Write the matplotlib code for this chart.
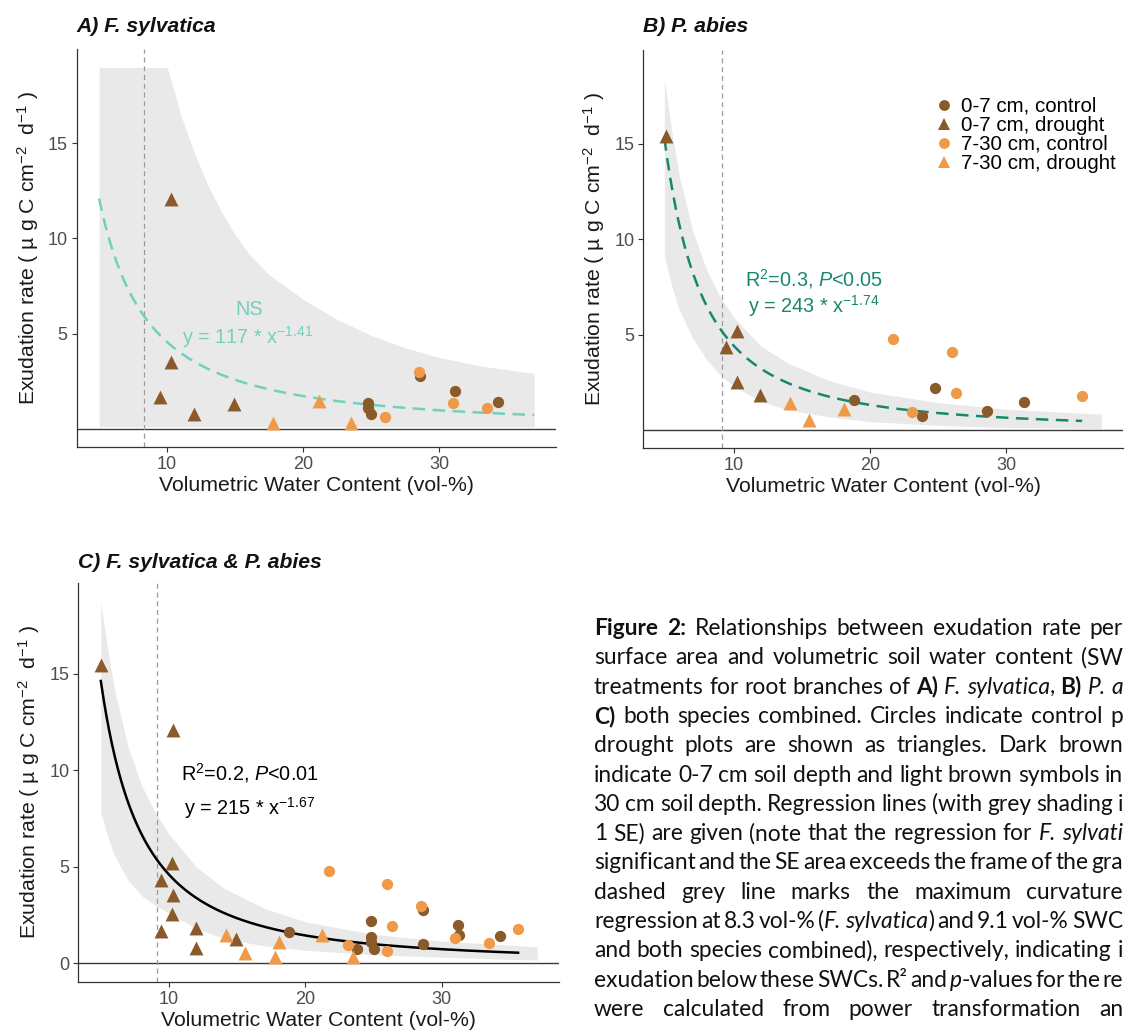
import matplotlib
matplotlib.use("Agg")
import matplotlib.pyplot as plt
import numpy as np
from matplotlib.lines import Line2D

plt.rcParams['font.family'] = ['Liberation Sans', 'DejaVu Sans']
plt.rcParams['mathtext.fontset'] = 'custom'
plt.rcParams['mathtext.rm'] = 'Liberation Sans'
plt.rcParams['mathtext.it'] = 'Liberation Sans:italic'
plt.rcParams['mathtext.bf'] = 'Liberation Sans:bold'

# ---------------- data ----------------
# Panel A: F. sylvatica
A_c07_x = [24.8, 24.8, 25.0, 28.6, 31.2, 34.3]
A_c07_y = [1.37, 1.10, 0.75, 2.77, 2.00, 1.40]
A_c730_x = [28.5, 26.0, 31.0, 33.5]
A_c730_y = [2.98, 0.62, 1.33, 1.07]
A_d07_x = [10.3, 10.3, 9.45, 12.0, 14.9]
A_d07_y = [12.1, 3.52, 1.66, 0.79, 1.28]
A_d730_x = [21.2, 17.8, 23.5]
A_d730_y = [1.45, 0.32, 0.32]

# Panel B: P. abies
B_c07_x = [18.8, 23.8, 24.8, 28.6, 31.3]
B_c07_y = [1.60, 0.75, 2.19, 0.98, 1.49]
B_c730_x = [21.7, 26.0, 26.35, 23.1, 35.6]
B_c730_y = [4.76, 4.10, 1.96, 0.96, 1.79]
B_d07_x = [5.0, 10.25, 9.45, 10.25, 11.95]
B_d07_y = [15.43, 5.22, 4.34, 2.54, 1.84]
B_d730_x = [14.15, 15.55, 18.1]
B_d730_y = [1.45, 0.53, 1.09]

# Fits (y = a * x^b)
A_fit = (117, -1.41)
B_fit = (243, -1.74)
C_fit = (215, -1.67)
A_fit_range = (5.0, 37.0)
B_fit_range = (4.9, 35.6)
C_fit_range = (5.0, 35.6)

# Max-curvature SWC markers
A_vline = 8.3
B_vline = 9.1
C_vline = 9.1

# SE ribbons
A_rib_x = [5.0, 9.9, 10.0, 10.5, 11, 12, 13, 14, 15, 16, 17.5, 20, 22.5, 25, 27.5, 30, 33, 37]
A_rib_hi = [19.0, 19.0, 19.0, 17.8, 16.5, 14.5, 12.8, 11.4, 10.2, 9.2, 8.1, 6.8, 5.75, 4.9, 4.25, 3.75, 3.3, 2.9]
A_rib_lo = [0.1] * len(A_rib_x)

B_rib_x = [4.9, 5.5, 6, 7, 8, 9, 10, 12, 14, 17, 20, 25, 30, 37]
B_rib_hi = [18.4, 15.4, 13.3, 10.4, 8.4, 7.0, 5.9, 4.4, 3.5, 2.6, 2.0, 1.45, 1.1, 0.84]
B_rib_lo = [9.1, 7.4, 6.3, 4.8, 3.7, 2.9, 2.3, 1.5, 1.05, 0.7, 0.45, 0.25, 0.14, 0.09]

C_rib_x = [5.0, 5.5, 6, 7, 8, 9, 10, 12, 14, 17, 20, 25, 30, 37]
C_rib_hi = [18.7, 16.3, 14.2, 11.2, 9.2, 7.8, 6.7, 5.0, 3.9, 2.85, 2.15, 1.5, 1.15, 0.86]
C_rib_lo = [7.8, 6.6, 5.6, 4.3, 3.5, 3.0, 2.6, 1.8, 1.3, 0.9, 0.68, 0.45, 0.32, 0.16]

x_ticks = [10, 20, 30]
y_ticks = [5, 10, 15]
C_y_ticks = [0, 5, 10, 15]

legend_labels = ["0-7 cm, control", "0-7 cm, drought", "7-30 cm, control", "7-30 cm, drought"]

# ---------------- style ----------------
DARK = '#8B5A2B'
LIGHT = '#EE9A49'
RIB = '#E9E9E9'
AXC = '#333333'
TICKC = '#4D4D4D'
LAB_FS = 15.3
ANN_FS = 14.3

W, H = 1125, 1032
fig = plt.figure(figsize=(W / 100, H / 100), dpi=100)


def px_axes(l, t, r, b):
    return fig.add_axes([l / W, 1 - b / H, (r - l) / W, (b - t) / H])


def panel(ax, groups, fit, fit_range, fit_color, fit_ls, rib, vline, ylim, yticks):
    rx, rlo, rhi = rib
    ax.fill_between(rx, rlo, rhi, color=RIB, lw=0, zorder=1)
    ax.axhline(0, color='#3a3a3a', lw=1.0, zorder=2)
    ax.axvline(vline, color='#9a9a9a', lw=0.9, ls=(0, (4, 3)), zorder=2)
    xx = np.linspace(fit_range[0], fit_range[1], 300)
    ax.plot(xx, fit[0] * xx ** fit[1], color=fit_color, lw=1.8, ls=fit_ls, zorder=3)
    for (gx, gy, col, mk) in groups:
        s = 100 if mk == '^' else 66
        ax.scatter(gx, gy, s=s, c=col, marker=mk, linewidths=0, zorder=4)
    ax.set_xlim(3.35, 38.6)
    ax.set_ylim(*ylim)
    ax.set_xticks(x_ticks)
    ax.set_yticks(yticks)
    for sp in ['top', 'right']:
        ax.spines[sp].set_visible(False)
    for sp in ['left', 'bottom']:
        ax.spines[sp].set_color(AXC)
        ax.spines[sp].set_linewidth(0.9)
    ax.tick_params(axis='both', colors=AXC, labelcolor=TICKC, labelsize=13,
                   length=3.5, width=0.8, pad=3)
    ax.set_xlabel("Volumetric Water Content (vol-%)", fontsize=LAB_FS, color='#1a1a1a', labelpad=2)
    ax.set_ylabel(r"Exudation rate ( µ g C cm$^{-2}$  d$^{-1}$ )", fontsize=LAB_FS,
                  color='#1a1a1a', labelpad=5)


A_groups = [(A_c07_x, A_c07_y, DARK, 'o'), (A_c730_x, A_c730_y, LIGHT, 'o'),
            (A_d07_x, A_d07_y, DARK, '^'), (A_d730_x, A_d730_y, LIGHT, '^')]
B_groups = [(B_c07_x, B_c07_y, DARK, 'o'), (B_c730_x, B_c730_y, LIGHT, 'o'),
            (B_d07_x, B_d07_y, DARK, '^'), (B_d730_x, B_d730_y, LIGHT, '^')]
C_groups = [(A_c07_x + B_c07_x, A_c07_y + B_c07_y, DARK, 'o'),
            (A_c730_x + B_c730_x, A_c730_y + B_c730_y, LIGHT, 'o'),
            (A_d07_x + B_d07_x, A_d07_y + B_d07_y, DARK, '^'),
            (A_d730_x + B_d730_x, A_d730_y + B_d730_y, LIGHT, '^')]

axA = px_axes(76.7, 49.3, 556, 446.7)
panel(axA, A_groups, A_fit, A_fit_range, '#72D0BD', (0, (5, 3)),
      (A_rib_x, A_rib_lo, A_rib_hi), A_vline, (-0.95, 19.95), y_ticks)
axA.text(16.0, 6.25, "NS", color='#72D0BD', fontsize=ANN_FS, ha='center', va='center')
axA.text(15.9, 4.8, r"y = 117 * x$^{-1.41}$", color='#72D0BD', fontsize=ANN_FS, ha='center', va='center')

axB = px_axes(643.3, 49.5, 1123, 448.3)
panel(axB, B_groups, B_fit, B_fit_range, '#17876D', (0, (5, 3)),
      (B_rib_x, B_rib_lo, B_rib_hi), B_vline, (-0.95, 19.95), y_ticks)
axB.text(15.9, 7.93, r"R$^2$=0.3, $\it{P}$<0.05", color='#17876D', fontsize=ANN_FS, ha='center', va='center')
axB.text(15.9, 6.5, r"y = 243 * x$^{-1.74}$", color='#17876D', fontsize=ANN_FS, ha='center', va='center')

axC = px_axes(78.3, 583, 559, 981.7)
panel(axC, C_groups, C_fit, C_fit_range, 'black', '-',
      (C_rib_x, C_rib_lo, C_rib_hi), C_vline, (-0.95, 19.7), C_y_ticks)
axC.text(15.9, 9.85, r"R$^2$=0.2, $\it{P}$<0.01", color='black', fontsize=ANN_FS, ha='center', va='center')
axC.text(15.9, 8.05, r"y = 215 * x$^{-1.67}$", color='black', fontsize=ANN_FS, ha='center', va='center')

# titles
for (x, y, t) in [(76.7, 27, "A) F. sylvatica"), (643.3, 27, "B) P. abies"),
                  (78.3, 562, "C) F. sylvatica & P. abies")]:
    fig.text(x / W, 1 - y / H, t, fontsize=15.2, fontweight='bold', fontstyle='italic',
             ha='left', va='center', color='#111111')

# legend
handles = [Line2D([], [], ls='', marker='o', color=DARK, markersize=7.8, mew=0),
           Line2D([], [], ls='', marker='^', color=DARK, markersize=8.8, mew=0),
           Line2D([], [], ls='', marker='o', color=LIGHT, markersize=7.8, mew=0),
           Line2D([], [], ls='', marker='^', color=LIGHT, markersize=8.8, mew=0)]
axB.legend(handles, legend_labels, loc='upper left', bbox_to_anchor=(935 / W, 1 - 97 / H),
           bbox_transform=fig.transFigure, frameon=False, fontsize=14.8, borderpad=0,
           handlelength=0.9, handletextpad=0.35, labelspacing=0.0, borderaxespad=0)

# caption (justified lines)
caption_lines = [
    "*Figure 2:* Relationships between exudation rate per",
    "surface area and volumetric soil water content (SW",
    "treatments for root branches of *A)* _F. sylvatica_, *B)* _P. a_",
    "*C)* both species combined. Circles indicate control p",
    "drought plots are shown as triangles. Dark brown",
    "indicate 0-7 cm soil depth and light brown symbols in",
    "30 cm soil depth. Regression lines (with grey shading i",
    "1 SE) are given (note that the regression for _F. sylvati_",
    "significant and the SE area exceeds the frame of the gra",
    "dashed grey line marks the maximum curvature",
    "regression at 8.3 vol-% (_F. sylvatica_) and 9.1 vol-% SWC",
    "and both species combined), respectively, indicating i",
    "exudation below these SWCs. R² and _p_-values for the re",
    "were calculated from power transformation an",
]


def parse(line):
    words = []
    cur = []
    st = {'b': False, 'i': False, 'buf': ''}

    def flush():
        if st['buf']:
            cur.append((st['buf'], st['b'], st['i']))
            st['buf'] = ''
    for ch in line:
        if ch == '*':
            flush(); st['b'] = not st['b']
        elif ch == '_':
            flush(); st['i'] = not st['i']
        elif ch == ' ':
            flush()
            if cur:
                words.append(list(cur)); cur.clear()
        else:
            st['buf'] += ch
    flush()
    if cur:
        words.append(list(cur))
    return words


renderer = fig.canvas.get_renderer()
CAPFONT = ['Lato', 'DejaVu Sans']

probe = fig.text(0, 0, "indicate 0-7 cm soil depth and light brown symbols in", fontsize=16, family=CAPFONT)
pw = probe.get_window_extent(renderer).width
probe.remove()
cap_fs = 16 * 536 / pw

x0, x1 = 594, 1123
for i, line in enumerate(caption_lines):
    yb = 628 + 29.3 * i + 7
    words = parse(line)
    objs = []
    widths = []
    for w in words:
        pieces = []
        wsum = 0
        for (t, b, it) in w:
            o = fig.text(0, 1 - yb / H, t, fontsize=cap_fs, family=CAPFONT,
                         fontweight='bold' if b else 'normal',
                         fontstyle='italic' if it else 'normal',
                         va='baseline', ha='left', color='#111111')
            pw = o.get_window_extent(renderer).width
            pieces.append((o, pw))
            wsum += pw
        objs.append(pieces)
        widths.append(wsum)
    gap = (x1 - x0 - sum(widths)) / max(len(words) - 1, 1)
    x = x0
    for pieces, wsum in zip(objs, widths):
        xx = x
        for (o, pw) in pieces:
            o.set_x(xx / W)
            xx += pw
        x += wsum + gap

fig.savefig("out.png", dpi=100)
